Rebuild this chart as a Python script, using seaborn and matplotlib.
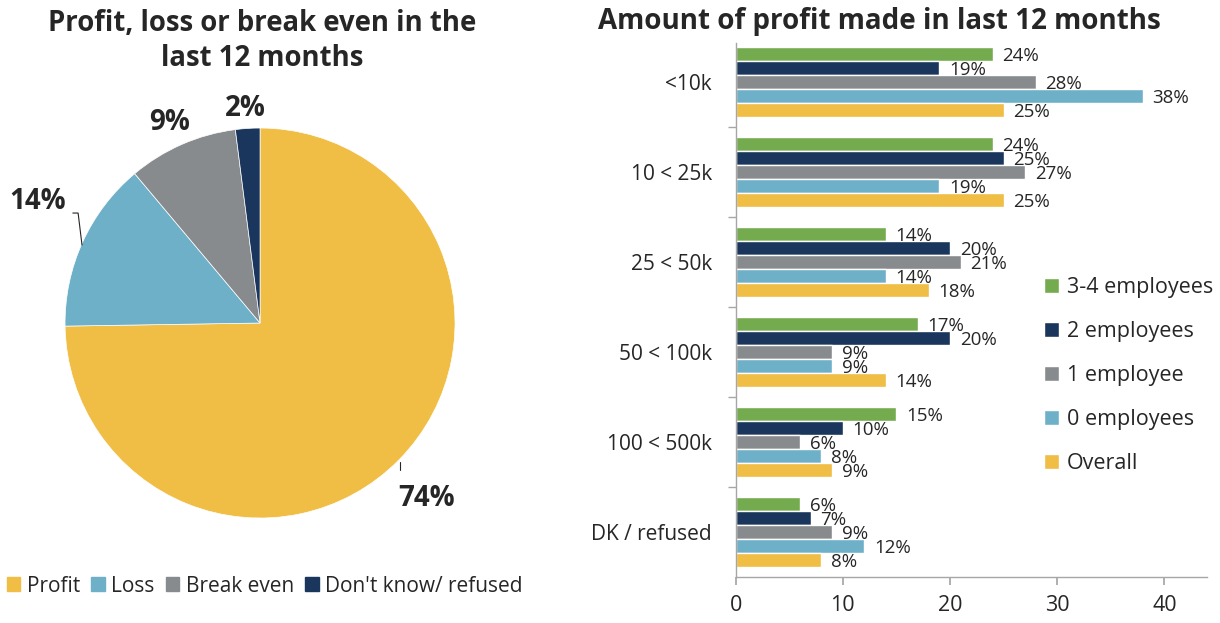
import numpy as np
import pandas as pd
import matplotlib
matplotlib.use("Agg")
import matplotlib.pyplot as plt
import seaborn as sns

# Pie data
pie_labels = ["Profit", "Loss", "Break even", "Don't know/ refused"]
pie_values = [74, 14, 9, 2]
pie_colors = ["#F0BD45", "#6FB0C9", "#888B8D", "#1B365D"]

# Bar data
categories = ["<10k", "10 < 25k", "25 < 50k", "50 < 100k", "100 < 500k", "DK / refused"]
groups = ["3-4 employees", "2 employees", "1 employee", "0 employees", "Overall"]
emp_3_4 = [24, 24, 14, 17, 15, 6]
emp_2 = [19, 25, 20, 20, 10, 7]
emp_1 = [28, 27, 21, 9, 6, 9]
emp_0 = [38, 19, 14, 9, 8, 12]
overall = [25, 25, 18, 14, 9, 8]
bar_colors = ["#75AB4F", "#1B365D", "#888B8D", "#6FB0C9", "#F0BD45"]

sns.set_theme(style="white")
plt.rcParams['font.family'] = ['Open Sans', 'DejaVu Sans']
text_col = "#262626"

fig = plt.figure(figsize=(12.2, 6.23), dpi=100)

# ---- Pie ----
ax1 = fig.add_axes([0.0533, 0.1685, 0.3197, 0.626])
wedges, _ = ax1.pie(pie_values, colors=pie_colors, startangle=90, counterclock=False,
                    wedgeprops=dict(linewidth=0.5, edgecolor="white"))
ax1.set_xlim(-1, 1)
ax1.set_ylim(-1, 1)
ax1.set_aspect("equal")
label_dist = [1.24, 1.30, 1.13, 1.105]
label_shift = [-2.0, -4, 0.6, 0.4]
for w, v, d, s in zip(wedges, pie_values, label_dist, label_shift):
    ang = np.deg2rad((w.theta1 + w.theta2) / 2 + s)
    ax1.text(d * np.cos(ang), d * np.sin(ang), f"{v}%", ha="center", va="center",
             fontsize=20, fontweight="bold", color=text_col, clip_on=False)
# leader lines
ax1.plot([0.718, 0.718], [-0.713, -0.754], color=text_col, lw=0.8, clip_on=False)
ax1.plot([-0.913, -0.933, -0.96], [0.40, 0.564, 0.564], color=text_col, lw=0.8,
         clip_on=False)

fig.text(0.215, 0.934, "Profit, loss or break even in the\nlast 12 months", ha="center",
         va="center", fontsize=19.8, fontweight="bold", color=text_col, linespacing=1.3)

handles = [plt.Rectangle((0, 0), 1, 1, color=c) for c in pie_colors]
fig.legend(handles, pie_labels, loc="center", bbox_to_anchor=(0.217, 0.059), ncol=4,
           frameon=False, fontsize=15, handlelength=0.65, handleheight=0.65,
           handletextpad=0.3, columnspacing=0.55, labelcolor=text_col)

# ---- Bars ----
df = pd.DataFrame({"category": categories, groups[0]: emp_3_4, groups[1]: emp_2,
                   groups[2]: emp_1, groups[3]: emp_0, groups[4]: overall})
long = df.melt(id_vars="category", var_name="group", value_name="value")

ax2 = fig.add_axes([0.603, 0.0738, 0.3865, 0.857])
sns.barplot(data=long, y="category", x="value", hue="group", hue_order=groups,
            order=categories, palette=bar_colors, orient="h", width=0.78,
            saturation=1, ax=ax2, legend=True)
for cont in ax2.containers:
    for p in cont:
        ax2.text(p.get_width() + 0.9, p.get_y() + p.get_height() * 0.62,
                 f"{p.get_width():.0f}%", ha="left", va="center", fontsize=13.5,
                 color=text_col)

ax2.set_xlim(0, 44)
ax2.set_ylim(len(categories) - 0.5, -0.433)
ax2.set_xticks([0, 10, 20, 30, 40])
ax2.set_xlabel("")
ax2.set_ylabel("")
ax2.set_yticks(np.arange(0.5, len(categories) - 0.5, 1), minor=True)
ax2.tick_params(axis="y", which="major", length=0, labelsize=15, labelcolor=text_col, pad=17)
ax2.tick_params(axis="y", which="minor", length=6, left=True, color="#A6A6A6")
ax2.tick_params(axis="x", length=6, bottom=True, color="#A6A6A6", labelsize=15.5,
                labelcolor=text_col, pad=7)
for s in ["top", "right"]:
    ax2.spines[s].set_visible(False)
for s in ["left", "bottom"]:
    ax2.spines[s].set_color("#A6A6A6")
    ax2.spines[s].set_linewidth(1)

leg = ax2.legend(loc="center left", bbox_to_anchor=(0.653, 0.378), frameon=False,
                 fontsize=15.5, handlelength=0.7, handleheight=0.7, handletextpad=0.4,
                 labelspacing=1.07, borderpad=0, borderaxespad=0, labelcolor=text_col)

fig.text(0.7205, 0.965, "Amount of profit made in last 12 months", ha="center", va="center",
         fontsize=20, fontweight="bold", color=text_col)

fig.savefig("out.png", dpi=100)
